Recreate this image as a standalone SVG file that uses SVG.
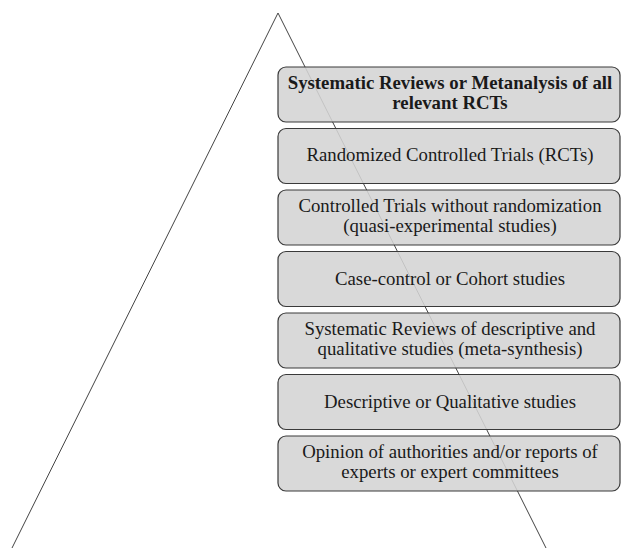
<svg xmlns="http://www.w3.org/2000/svg" width="622" height="548" viewBox="0 0 622 548">
<style>
.bx{fill:#d4d4d4;fill-opacity:0.88;stroke:#3a3a3a;stroke-width:1.2}
.t{font-family:'Liberation Serif','Times New Roman',Times,serif;font-size:18.8px;fill:#1a1a1a;text-anchor:middle}
.b{font-weight:bold}
.ln{stroke:#444;stroke-width:1;fill:none}
</style>
<rect width="622" height="548" fill="#fff"/>
<g id="connectors">
<polyline class="ln" points="12,548 278,13 546,548"/>
</g>
<g id="n1"><rect class="bx" x="278" y="67" width="342" height="55" rx="8"/>
<text class="t b" x="450" y="89">Systematic Reviews or Metanalysis of all</text>
<text class="t b" x="450" y="109">relevant RCTs</text></g>
<g id="n2"><rect class="bx" x="278" y="128.5" width="342" height="55" rx="8"/>
<text class="t" x="450" y="161">Randomized Controlled Trials (RCTs)</text></g>
<g id="n3"><rect class="bx" x="278" y="190" width="342" height="55" rx="8"/>
<text class="t" x="450" y="212">Controlled Trials without randomization</text>
<text class="t" x="450" y="232">(quasi-experimental studies)</text></g>
<g id="n4"><rect class="bx" x="278" y="251.5" width="342" height="55" rx="8"/>
<text class="t" x="450" y="285">Case-control or Cohort studies</text></g>
<g id="n5"><rect class="bx" x="278" y="313" width="342" height="55" rx="8"/>
<text class="t" x="450" y="335">Systematic Reviews of descriptive and</text>
<text class="t" x="450" y="355">qualitative studies (meta-synthesis)</text></g>
<g id="n6"><rect class="bx" x="278" y="374.5" width="342" height="55" rx="8"/>
<text class="t" x="450" y="408">Descriptive or Qualitative studies</text></g>
<g id="n7"><rect class="bx" x="278" y="436" width="342" height="55" rx="8"/>
<text class="t" x="450" y="458">Opinion of authorities and/or reports of</text>
<text class="t" x="450" y="478">experts or expert committees</text></g>
</svg>
